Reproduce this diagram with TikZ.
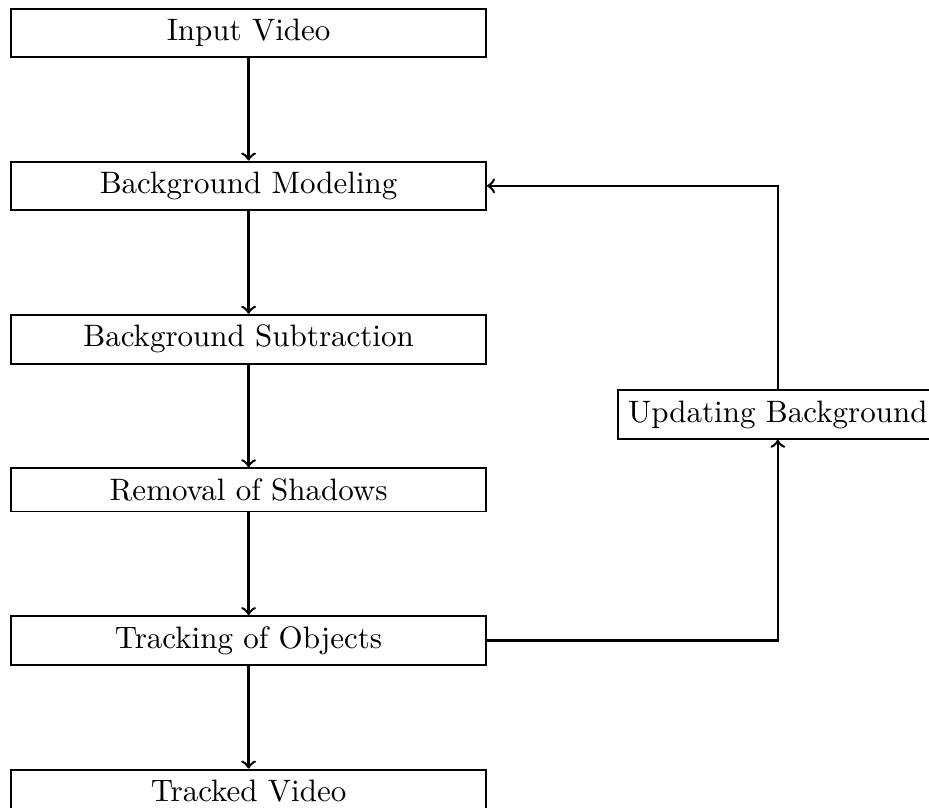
\documentclass[tikz,border=0pt]{standalone}
\usepackage{tikz}
\usetikzlibrary{positioning, calc}

\begin{document}
\begin{tikzpicture}[node distance=1.165cm, box/.style={draw, semithick, rectangle, text width=5.15cm, align=center}, flow/.style={->, thick}]
  \useasboundingbox (-80.2pt,10.6pt) rectangle (219.5pt,-250pt);
  \node[box] (input) at (0,0) {Input Video};
  \node[box, below=of input] (model) {Background Modeling};
  \node[box, below=of model] (subtract) {Background Subtraction};
  \node[box, below=of subtract] (shadow) {Removal of Shadows};
  \node[box, below=of shadow] (track) {Tracking of Objects};
  \node[box, below=of track] (output) {Tracked Video};
  \node[draw, semithick, rectangle] (update) at ($(subtract)!0.5!(shadow)+(6.0cm,0)$) {Updating Background};
  \draw[flow] (input) -- (model);
  \draw[flow] (model) -- (subtract);
  \draw[flow] (subtract) -- (shadow);
  \draw[flow] (shadow) -- (track);
  \draw[flow] (track) -- (output);
  \draw[flow] (track.east) -| (update.south);
  \draw[flow] (update.north) |- (model.east);
\end{tikzpicture}
\end{document}
